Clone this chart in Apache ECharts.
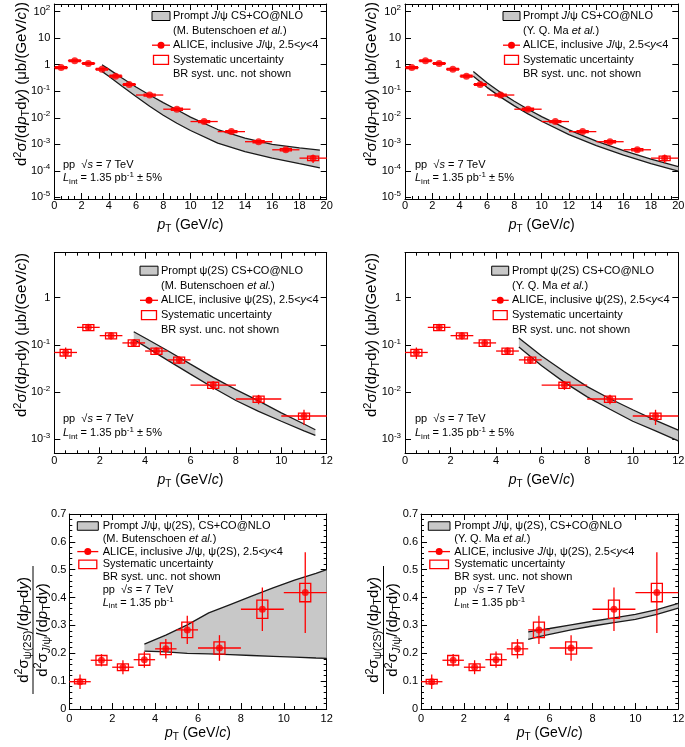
<!DOCTYPE html>
<html><head><meta charset="utf-8">
<script src="https://cdn.jsdelivr.net/npm/echarts@6/dist/echarts.min.js"></script>
<style>html,body{margin:0;padding:0;background:#fff}#c{width:685px;height:747px}</style>
</head><body><div id="c"></div>
<script>
// ---------------- data ----------------
// inclusive J/psi cross section (mub/(GeV/c))
const jpsiPt     = [0.5, 1.5, 2.5, 3.5, 4.5, 5.5, 7, 9, 11, 13, 15, 17, 19];
const jpsiPtLow  = [0, 1, 2, 3, 4, 5, 6, 8, 10, 12, 14, 16, 18];
const jpsiPtHigh = [1, 2, 3, 4, 5, 6, 8, 10, 12, 14, 16, 18, 20];
const jpsiXsec   = [0.78, 1.42, 1.12, 0.68, 0.37, 0.18, 0.072, 0.021, 0.0072, 0.0030, 0.00125, 0.00062, 0.00030];
const jpsiStat   = [0.016, 0.021, 0.017, 0.014, 0.009, 0.0054, 0.0029, 0.00105, 0.00043, 0.00024, 0.000125, 0.000087, 0.000105];
const jpsiSyst   = [0.062, 0.11, 0.09, 0.054, 0.03, 0.015, 0.006, 0.0018, 0.0006, 0.00026, 0.00011, 0.00006, 0.00006];

// inclusive psi(2S) cross section
const psi2sPt     = [0.5, 1.5, 2.5, 3.5, 4.5, 5.5, 7, 9, 11];
const psi2sPtLow  = [0, 1, 2, 3, 4, 5, 6, 8, 10];
const psi2sPtHigh = [1, 2, 3, 4, 5, 6, 8, 10, 12];
const psi2sXsec   = [0.069, 0.235, 0.157, 0.11, 0.074, 0.048, 0.014, 0.0071, 0.0031];
const psi2sStat   = [0.019, 0.031, 0.027, 0.018, 0.013, 0.0086, 0.0029, 0.0016, 0.0011];
const psi2sSyst   = [0.011, 0.035, 0.023, 0.017, 0.011, 0.0072, 0.0021, 0.0011, 0.00047];

// psi(2S)/J/psi ratio
const ratioValues = [0.098, 0.175, 0.150, 0.177, 0.216, 0.284, 0.219, 0.358, 0.418];
const ratioStat   = [0.026, 0.022, 0.025, 0.029, 0.035, 0.051, 0.046, 0.078, 0.145];
const ratioSyst   = [0.008, 0.017, 0.012, 0.020, 0.021, 0.028, 0.022, 0.033, 0.033];

// NLO bands
const butJpsiPt = [3.5, 4, 5, 6, 7, 8, 9, 10, 12, 14, 16, 18, 19.5];
const butJpsiUp = [1.0, 0.68, 0.31, 0.145, 0.072, 0.037, 0.02, 0.0105, 0.0036, 0.0017, 0.001, 0.00073, 0.0006];
const butJpsiLo = [0.56, 0.37, 0.15, 0.063, 0.027, 0.0125, 0.0062, 0.0033, 0.0011, 0.00053, 0.0003, 0.000185, 0.00013];

const maJpsiPt = [5, 6, 7, 8, 9, 10, 12, 14, 16, 18, 20];
const maJpsiUp = [0.55, 0.21, 0.089, 0.042, 0.021, 0.011, 0.0035, 0.00132, 0.00058, 0.000275, 0.000145];
const maJpsiLo = [0.37, 0.14, 0.06, 0.028, 0.014, 0.0074, 0.0023, 0.00089, 0.00039, 0.000186, 0.000098];

const butPsiPt = [3.5, 4, 5, 6, 7, 8, 9, 10, 11, 11.5];
const butPsiUp = [0.19, 0.14, 0.075, 0.039, 0.0204, 0.0112, 0.0065, 0.0036, 0.0021, 0.00158];
const butPsiLo = [0.13, 0.093, 0.047, 0.024, 0.0123, 0.0066, 0.0039, 0.0024, 0.0015, 0.0012];

const maPsiPt = [5, 6, 7, 8, 9, 10, 11, 12];
const maPsiUp = [0.14, 0.058, 0.027, 0.013, 0.0072, 0.0042, 0.0025, 0.00155];
const maPsiLo = [0.09, 0.036, 0.016, 0.0079, 0.0043, 0.0024, 0.0015, 0.00092];

const butRatioPt = [3.5, 4.5, 5.5, 6.5, 7.5, 8.5, 9.5, 10.5, 11.5, 12];
const butRatioUp = [0.233, 0.265, 0.302, 0.345, 0.375, 0.405, 0.435, 0.463, 0.487, 0.5];
const butRatioLo = [0.208, 0.205, 0.2, 0.198, 0.195, 0.192, 0.189, 0.186, 0.183, 0.182];

const maRatioPt = [5, 5.5, 6, 7, 8, 9, 10, 11, 12];
const maRatioUp = [0.277, 0.283, 0.289, 0.302, 0.315, 0.327, 0.34, 0.357, 0.379];
const maRatioLo = [0.25, 0.26, 0.268, 0.284, 0.298, 0.31, 0.322, 0.34, 0.362];

// ---------------- rendering ----------------
const RED = '#ff0000', GRAY = '#c8c8c8', BLACK = '#000';
const FONT = "'Liberation Sans', Arial, Helvetica, sans-serif";

function richSet(fs) {
  const s = Math.round(fs * 0.72);
  const sh = Math.round(fs * 0.55);
  return {
    n:   {fontSize: fs, fontFamily: FONT, color: BLACK},
    i:   {fontSize: fs, fontFamily: FONT, fontStyle: 'italic', color: BLACK},
    sub: {fontSize: s, fontFamily: FONT, color: BLACK, padding: [sh, 0, 0, 0]},
    subi:{fontSize: s, fontFamily: FONT, fontStyle: 'italic', color: BLACK, padding: [sh, 0, 0, 0]},
    sup: {fontSize: s, fontFamily: FONT, color: BLACK, padding: [0, 0, sh + 1, 0]}
  };
}
function txt(x, y, text, fs, align, extra) {
  return Object.assign({type: 'text', x: x, y: y, z: 100,
    style: {text: text, rich: richSet(fs), font: fs + 'px ' + FONT, fill: BLACK,
            align: align || 'left', verticalAlign: 'middle'}}, extra || {});
}

function logLabel(v) {
  const l = Math.log10(v), n = Math.round(l);
  if (Math.abs(l - n) > 0.02) return '';
  if (n === 0) return '{n|1}';
  if (n === 1) return '{n|10}';
  return '{n|10}{sup|' + n + '}';
}

const panels = [
  {grid: {left: 54.3, top: 4, width: 272.4, height: 195}, xMax: 20, log: [-5.064, 2.29], xMargin: 1,
   pts: [jpsiPt, jpsiPtLow, jpsiPtHigh, jpsiXsec, jpsiStat, jpsiSyst], band: [butJpsiPt, butJpsiUp, butJpsiLo]},
  {grid: {left: 405, top: 4, width: 273.3, height: 195}, xMax: 20, log: [-5.064, 2.29], xMargin: 1,
   pts: [jpsiPt, jpsiPtLow, jpsiPtHigh, jpsiXsec, jpsiStat, jpsiSyst], band: [maJpsiPt, maJpsiUp, maJpsiLo]},
  {grid: {left: 54.3, top: 252.7, width: 272.4, height: 200.6}, xMax: 12, log: [-3.30, 0.955], xMargin: 2,
   pts: [psi2sPt, psi2sPtLow, psi2sPtHigh, psi2sXsec, psi2sStat, psi2sSyst], band: [butPsiPt, butPsiUp, butPsiLo]},
  {grid: {left: 405, top: 252.7, width: 273.3, height: 200.6}, xMax: 12, log: [-3.30, 0.955], xMargin: 2,
   pts: [psi2sPt, psi2sPtLow, psi2sPtHigh, psi2sXsec, psi2sStat, psi2sSyst], band: [maPsiPt, maPsiUp, maPsiLo]},
  {grid: {left: 69.3, top: 514, width: 257.4, height: 195}, xMax: 12, lin: [0, 0.7], xMargin: 4,
   pts: [psi2sPt, psi2sPtLow, psi2sPtHigh, ratioValues, ratioStat, ratioSyst], band: [butRatioPt, butRatioUp, butRatioLo]},
  {grid: {left: 421, top: 514, width: 257.3, height: 195}, xMax: 12, lin: [0, 0.7], xMargin: 4,
   pts: [psi2sPt, psi2sPtLow, psi2sPtHigh, ratioValues, ratioStat, ratioSyst], band: [maRatioPt, maRatioUp, maRatioLo]}
];

const grids = [], xAxes = [], yAxes = [], series = [];
const lineCol = {color: BLACK, width: 1};

panels.forEach(function (P, i) {
  grids.push(Object.assign({outerBoundsMode: 'none', containLabel: false, show: false}, P.grid));
  const xBase = {gridIndex: i, type: 'value', min: 0, max: P.xMax, interval: 2,
    axisLine: {show: true, onZero: false, lineStyle: lineCol},
    axisTick: {show: true, inside: true, length: 6, lineStyle: lineCol},
    minorTick: {show: true, splitNumber: 4, length: 3, lineStyle: lineCol},
    splitLine: {show: false}};
  xAxes.push(Object.assign({}, xBase, {position: 'bottom',
    axisLabel: {show: true, margin: P.xMargin, fontSize: 11, color: BLACK, fontFamily: FONT}}));
  xAxes.push(Object.assign({}, xBase, {position: 'top', axisLabel: {show: false}}));

  let yBase;
  if (P.log) {
    yBase = {gridIndex: i, type: 'log', logBase: 10, min: Math.pow(10, P.log[0]), max: Math.pow(10, P.log[1]),
      axisLine: {show: true, onZero: false, lineStyle: lineCol},
      axisTick: {show: true, inside: true, length: 6, lineStyle: lineCol},
      splitLine: {show: false}};
    yAxes.push(Object.assign({}, yBase, {position: 'left',
      axisLabel: {show: true, margin: 4, formatter: logLabel, rich: richSet(11), showMinLabel: true, showMaxLabel: true}}));
  } else {
    yBase = {gridIndex: i, type: 'value', min: P.lin[0], max: P.lin[1], interval: 0.1,
      axisLine: {show: true, onZero: false, lineStyle: lineCol},
      axisTick: {show: true, inside: true, length: 6, lineStyle: lineCol},
      minorTick: {show: true, splitNumber: 5, length: 3, lineStyle: lineCol},
      splitLine: {show: false}};
    yAxes.push(Object.assign({}, yBase, {position: 'left',
      axisLabel: {show: true, margin: 3, fontSize: 11, color: BLACK, fontFamily: FONT,
        formatter: function (v) { return v === 0 ? '0' : v.toFixed(1); }}}));
  }
  yAxes.push(Object.assign({}, yBase, {position: 'right', axisLabel: {show: false}}));

  const xi = 2 * i, yi = 2 * i;
  const bx = P.band[0], bu = P.band[1], bl = P.band[2];
  // band fill
  series.push({type: 'custom', xAxisIndex: xi, yAxisIndex: yi, z: 1, silent: true,
    data: bx.map(function (x, k) { return [x, bu[k]]; }),
    renderItem: function (params, api) {
      if (params.dataIndex !== 0) return null;
      const pts = [];
      for (let k = 0; k < bx.length; k++) pts.push(api.coord([bx[k], bu[k]]));
      for (let k = bx.length - 1; k >= 0; k--) pts.push(api.coord([bx[k], bl[k]]));
      return {type: 'polygon', shape: {points: pts}, style: {fill: GRAY}};
    }});
  // band edges
  [bu, bl].forEach(function (arr) {
    series.push({type: 'line', xAxisIndex: xi, yAxisIndex: yi, z: 2, silent: true,
      data: bx.map(function (x, k) { return [x, arr[k]]; }),
      showSymbol: false, symbol: 'none', lineStyle: {color: '#1a1a1a', width: 1.3}});
  });
  // error bars and systematic boxes
  const px = P.pts[0], pl = P.pts[1], ph = P.pts[2], pv = P.pts[3], ps = P.pts[4], py = P.pts[5];
  series.push({type: 'custom', xAxisIndex: xi, yAxisIndex: yi, z: 3, silent: true,
    data: px.map(function (x, k) { return [x, pv[k]]; }),
    renderItem: function (params, api) {
      const k = params.dataIndex;
      const c = api.coord([px[k], pv[k]]);
      const l = api.coord([pl[k], pv[k]]);
      const h = api.coord([ph[k], pv[k]]);
      const t = api.coord([px[k], pv[k] + ps[k]]);
      const b = api.coord([px[k], pv[k] - ps[k]]);
      const st = api.coord([px[k], pv[k] + py[k]]);
      const sb = api.coord([px[k], pv[k] - py[k]]);
      const hw = 5.5;
      return {type: 'group', children: [
        {type: 'line', shape: {x1: l[0], y1: c[1], x2: h[0], y2: c[1]}, style: {stroke: RED, lineWidth: 1.3}},
        {type: 'line', shape: {x1: c[0], y1: t[1], x2: c[0], y2: b[1]}, style: {stroke: RED, lineWidth: 1.3}},
        {type: 'rect', shape: {x: c[0] - hw, y: st[1], width: 2 * hw, height: sb[1] - st[1]},
         style: {fill: 'none', stroke: RED, lineWidth: 1.3}}
      ]};
    }});
  // markers
  series.push({type: 'scatter', xAxisIndex: xi, yAxisIndex: yi, z: 4, silent: true,
    data: px.map(function (x, k) { return [x, pv[k]]; }),
    symbol: 'circle', symbolSize: 7, itemStyle: {color: RED}});
});

// ---------------- texts / legends ----------------
const G = [];
const xTitle = '{i|p}{sub|T}{n| (GeV/}{i|c}{n|)}';
const yTitle = '{n|d}{sup|2}{n|σ/(d}{i|p}{sub|T}{n|d}{i|y}{n|) (μb/(GeV/}{i|c}{n|))}';
const ratioNum = '{n|d}{sup|2}{n|σ}{sub|ψ(2S)}{n|/(d}{i|p}{sub|T}{n|d}{i|y}{n|)}';
const ratioDen = '{n|d}{sup|2}{n|σ}{subi|J}{sub|/ψ}{n|/(d}{i|p}{sub|T}{n|d}{i|y}{n|)}';

// x titles
[[190.5, 225], [541.7, 225], [190.5, 480], [541.7, 480], [198, 733], [549.7, 733]].forEach(function (p) {
  G.push(txt(p[0], p[1], xTitle, 14, 'center'));
});
// y titles (cross sections)
[[22, 84], [372, 84], [22, 335], [372, 335]].forEach(function (p) {
  G.push(txt(p[0], p[1], yTitle, 15, 'center', {rotation: Math.PI / 2}));
});
// y titles (ratio)
[[33, 630], [383.5, 630]].forEach(function (p) {
  G.push({type: 'group', x: p[0], y: p[1], rotation: Math.PI / 2, children: [
    txt(0, -9.5, ratioNum, 15, 'center'),
    {type: 'line', shape: {x1: -64, y1: 0, x2: 64, y2: 0}, style: {stroke: BLACK, lineWidth: 1}},
    txt(0, 9.5, ratioDen, 15, 'center')
  ]});
});

function legend(L) {
  L.lines.forEach(function (t, k) { G.push(txt(L.textX, L.y0 + k * L.dy, t, 11)); });
  const yb = L.y0, yp = L.y0 + 2 * L.dy, ys = L.y0 + 3 * L.dy;
  G.push({type: 'rect', shape: {x: L.sx, y: yb - L.bh / 2, width: L.sw, height: L.bh},
    style: {fill: GRAY, stroke: BLACK, lineWidth: 1}});
  G.push({type: 'line', shape: {x1: L.sx, y1: yp, x2: L.sx + L.sw, y2: yp}, style: {stroke: RED, lineWidth: 1.3}});
  G.push({type: 'circle', shape: {cx: L.sx + L.sw / 2, cy: yp, r: 3.5}, style: {fill: RED}});
  G.push({type: 'rect', shape: {x: L.sx + 1.5, y: ys - L.bh / 2, width: L.sw - 3, height: L.bh},
    style: {fill: 'none', stroke: RED, lineWidth: 1.3}});
}
const systL = '{n|Systematic uncertainty}', brL = '{n|BR syst. unc. not shown}';
const butL = '{n|(M. Butenschoen }{i|et al.}{n|)}', maL = '{n|(Y. Q. Ma }{i|et al.}{n|)}';
const jpsiTh = '{n|Prompt }{i|J}{n|/ψ CS+CO@NLO}';
const jpsiAl = '{n|ALICE, inclusive }{i|J}{n|/ψ, 2.5<}{i|y}{n|<4}';
const psiTh = '{n|Prompt ψ(2S) CS+CO@NLO}';
const psiAl = '{n|ALICE, inclusive ψ(2S), 2.5<}{i|y}{n|<4}';
const ratTh = '{n|Prompt }{i|J}{n|/ψ, ψ(2S), CS+CO@NLO}';
const ratAl = '{n|ALICE, inclusive }{i|J}{n|/ψ, ψ(2S), 2.5<}{i|y}{n|<4}';
const ppL = '{n|pp  √}{i|s}{n| = 7 TeV}';
const lumL5 = '{i|L}{sub|int}{n| = 1.35 pb}{sup|-1}{n| ± 5%}';
const lumL = '{i|L}{sub|int}{n| = 1.35 pb}{sup|-1}';

legend({sx: 152, sw: 18, bh: 9, textX: 173, y0: 16, dy: 14.6, lines: [jpsiTh, butL, jpsiAl, systL, brL]});
legend({sx: 503, sw: 17, bh: 9, textX: 523, y0: 16, dy: 14.6, lines: [jpsiTh, maL, jpsiAl, systL, brL]});
legend({sx: 140, sw: 18, bh: 9, textX: 161, y0: 270.7, dy: 14.8, lines: [psiTh, butL, psiAl, systL, brL]});
legend({sx: 491.7, sw: 17, bh: 9, textX: 512, y0: 270.7, dy: 14.8, lines: [psiTh, maL, psiAl, systL, brL]});
legend({sx: 77.3, sw: 21, bh: 8.5, textX: 102.7, y0: 526, dy: 12.8, lines: [ratTh, butL, ratAl, systL, brL, ppL, lumL]});
legend({sx: 428.3, sw: 21.7, bh: 8.5, textX: 454.3, y0: 526, dy: 12.8, lines: [ratTh, maL, ratAl, systL, brL, ppL, lumL]});

// pp labels in cross-section panels
[[63, 165, 178.3], [415, 165, 178.3], [63, 419.3, 433.3], [415, 419.3, 433.3]].forEach(function (p) {
  G.push(txt(p[0], p[1], ppL, 11));
  G.push(txt(p[0], p[2], lumL5, 11));
});

const chart = echarts.init(document.getElementById('c'), null, {renderer: 'canvas'});
chart.setOption({
  animation: false,
  backgroundColor: '#fff',
  grid: grids,
  xAxis: xAxes,
  yAxis: yAxes,
  series: series,
  graphic: {elements: G}
});
</script>
</body></html>
